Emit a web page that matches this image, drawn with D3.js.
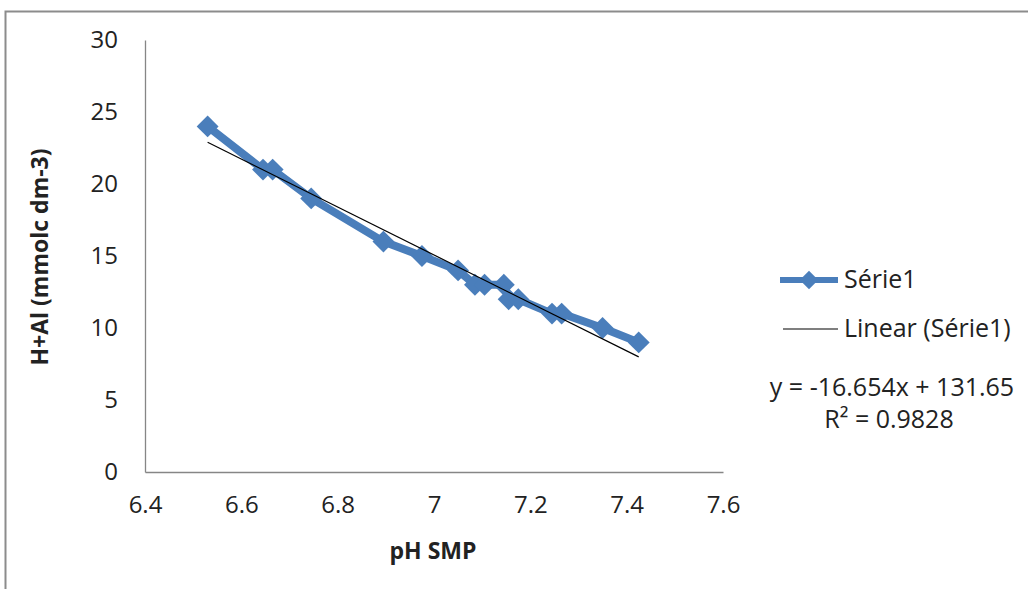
<!DOCTYPE html>
<html>
<head>
<script src="https://d3js.org/d3.v7.min.js"></script>
<style>
  body { margin: 0; background: #fff; }
  text { font-family: "Open Sans", "Liberation Sans", sans-serif; fill: #222; }
</style>
</head>
<body>
<script>
// values
var phSMP = [6.53, 6.645, 6.665, 6.745, 6.895, 6.975, 7.05, 7.085, 7.105, 7.145, 7.155, 7.175, 7.245, 7.265, 7.35, 7.425];
var hAl   = [24, 21, 21, 19, 16, 15, 14, 13, 13, 13, 12, 12, 11, 11, 10, 9];
var xTicks = [6.4, 6.6, 6.8, 7, 7.2, 7.4, 7.6];
var yTicks = [0, 5, 10, 15, 20, 25, 30];
var slope = -16.654, intercept = 131.65, r2 = 0.9828;

var W = 1028, H = 589;
var blue = "#4a7ebb";

var svg = d3.select("body").append("svg").attr("width", W).attr("height", H);

// chart frame
svg.append("rect").attr("x", 5.5).attr("y", 11.5).attr("width", W).attr("height", H)
  .attr("fill", "none").attr("stroke", "#8c8c8c").attr("stroke-width", 2);

var x = d3.scaleLinear().domain([6.4, 7.6]).range([145, 723]);
var y = d3.scaleLinear().domain([0, 30]).range([472, 40]);

// axes
var xAxis = svg.append("g").attr("transform", "translate(0," + y(0) + ")")
  .call(d3.axisBottom(x).tickValues(xTicks).tickSize(0).tickPadding(24).tickFormat(d3.format("")));
var yAxis = svg.append("g").attr("transform", "translate(" + x(6.4) + ",0)")
  .call(d3.axisLeft(y).tickValues(yTicks).tickSize(0).tickPadding(27));
[xAxis, yAxis].forEach(function (g) {
  g.attr("font-size", null).attr("font-family", null);
  g.select(".domain").attr("stroke", "#868686").attr("stroke-width", 1.3);
  g.selectAll("text").style("font-size", "24px").attr("fill", "#222");
});

svg.append("text").attr("x", 433).attr("y", 559).attr("text-anchor", "middle")
  .style("font-size", "23px").style("font-weight", "bold").text("pH SMP");
svg.append("text").attr("transform", "translate(48,257) rotate(-90)").attr("text-anchor", "middle")
  .style("font-size", "23px").style("font-weight", "bold").text("H+Al (mmolc dm-3)");

var pts = phSMP.map(function (v, i) { return [v, hAl[i]]; });

// series line
svg.append("path")
  .attr("d", d3.line().x(function (d) { return x(d[0]); }).y(function (d) { return y(d[1]); })(pts))
  .attr("fill", "none").attr("stroke", blue).attr("stroke-width", 8).attr("stroke-linejoin", "round");

var diamond = d3.symbol().type(d3.symbolSquare).size(240);
svg.selectAll(".pt").data(pts).enter().append("path")
  .attr("d", diamond)
  .attr("transform", function (d) { return "translate(" + x(d[0]) + "," + y(d[1]) + ") rotate(45)"; })
  .attr("fill", blue);

// linear trendline
var xr = d3.extent(phSMP);
svg.append("line")
  .attr("x1", x(xr[0])).attr("y1", y(slope * xr[0] + intercept))
  .attr("x2", x(xr[1])).attr("y2", y(slope * xr[1] + intercept))
  .attr("stroke", "#000").attr("stroke-width", 1.2);

// legend
svg.append("line").attr("x1", 780).attr("x2", 838).attr("y1", 280).attr("y2", 280)
  .attr("stroke", blue).attr("stroke-width", 6);
svg.append("path").attr("d", d3.symbol().type(d3.symbolSquare).size(170))
  .attr("transform", "translate(809,280) rotate(45)").attr("fill", blue);
svg.append("text").attr("x", 844).attr("y", 288).style("font-size", "25px").text("Série1");
svg.append("line").attr("x1", 783).attr("x2", 838).attr("y1", 329).attr("y2", 329)
  .attr("stroke", "#000").attr("stroke-width", 1.2);
svg.append("text").attr("x", 844).attr("y", 337).style("font-size", "25px").text("Linear (Série1)");

svg.append("text").attr("x", 892).attr("y", 396).attr("text-anchor", "middle").style("font-size", "25px")
  .text("y = " + slope + "x + " + intercept);
svg.append("text").attr("x", 889).attr("y", 428).attr("text-anchor", "middle").style("font-size", "25px")
  .text("R² = " + r2);
</script>
</body>
</html>
